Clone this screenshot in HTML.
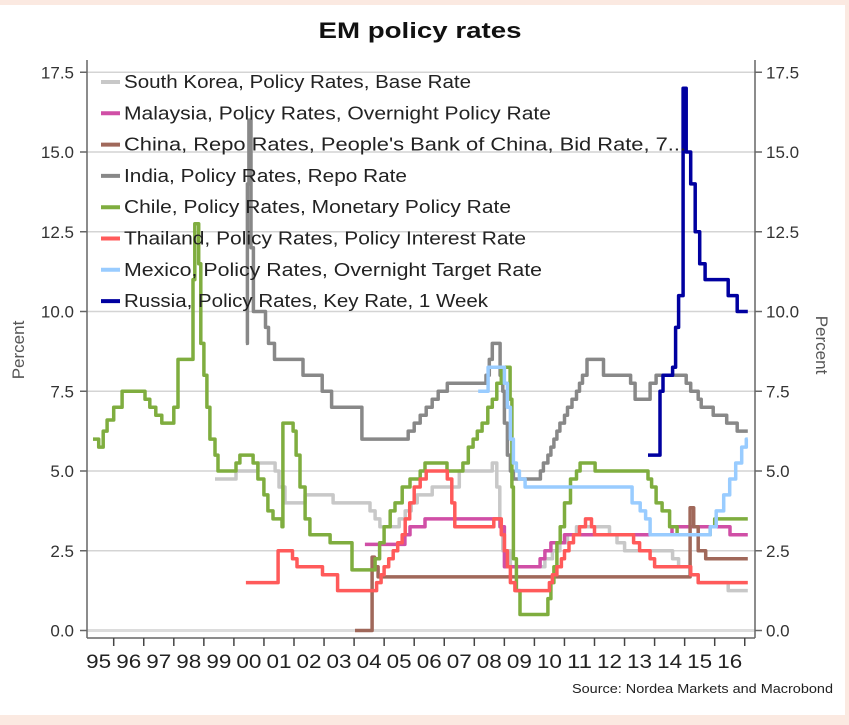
<!DOCTYPE html>
<html><head><meta charset="utf-8"><style>
html,body{margin:0;padding:0;background:#fbe9e1;width:849px;height:725px;overflow:hidden}
svg{display:block}
text{font-family:"Liberation Sans",sans-serif}
</style></head><body>
<svg id="chart" width="849" height="725" xmlns="http://www.w3.org/2000/svg">
<rect x="0" y="5" width="845" height="710" fill="#ffffff"/>
<text x="420" y="38" text-anchor="middle" font-size="22" font-weight="bold" fill="#111" textLength="203" lengthAdjust="spacingAndGlyphs">EM policy rates</text>
<g id="grid"></g><g id="axes"></g><g id="series"></g><g id="legend"></g>
<text x="833" y="693" text-anchor="end" font-size="13" fill="#222" textLength="261" lengthAdjust="spacingAndGlyphs">Source: Nordea Markets and Macrobond</text>
<text transform="translate(24,350) rotate(-90)" text-anchor="middle" font-size="17" fill="#555">Percent</text>
<text transform="translate(816,345) rotate(90)" text-anchor="middle" font-size="17" fill="#555">Percent</text>
</svg>
<script>
const yTicks=[0,2.5,5,7.5,10,12.5,15,17.5];
const yearLabels=["95","96","97","98","99","00","01","02","03","04","05","06","07","08","09","10","11","12","13","14","15","16"];
const firstYear=1995;
const END=2017.1;
const seriesNames=["South Korea, Policy Rates, Base Rate","Malaysia, Policy Rates, Overnight Policy Rate","China, Repo Rates, People's Bank of China, Bid Rate, 7...","India, Policy Rates, Repo Rate","Chile, Policy Rates, Monetary Policy Rate","Thailand, Policy Rates, Policy Interest Rate","Mexico, Policy Rates, Overnight Target Rate","Russia, Policy Rates, Key Rate, 1 Week"];
const seriesColors=["#c8c8c8","#d04fa6","#a0685a","#888888","#7fad3f","#ff5a5a","#99ccff","#0000a0"];
const koreaYears=[1999.37,2000.07,2000.8,2001.37,2001.5,2001.7,2002.37,2003.3,2004.53,2004.7,2004.86,2005.5,2005.7,2005.9,2006.1,2006.6,2007.5,2008.6,2008.75,2008.85,2008.95,2009.2,2010.35,2010.6,2010.85,2011.1,2011.4,2012.5,2012.75,2013.0,2014.6,2014.8,2015.2,2015.45,2016.45];
const koreaValues=[4.75,5.0,5.25,5.0,4.5,4.0,4.25,4.0,3.75,3.5,3.25,3.5,3.75,4.0,4.25,4.5,5.0,5.25,4.5,3.25,2.5,2.0,2.25,2.5,2.75,3.0,3.25,3.0,2.75,2.5,2.25,2.0,1.75,1.5,1.25];
const malaysiaYears=[2004.36,2005.69,2005.86,2006.1,2006.36,2008.86,2009.0,2010.19,2010.35,2010.55,2011.0,2014.58,2016.51];
const malaysiaValues=[2.7,3.0,3.25,3.25,3.5,3.25,2.0,2.25,2.5,2.75,3.0,3.25,3.0];
const chinaYears=[2004.03,2004.6,2004.68,2004.8,2015.11,2015.18,2015.3,2015.45,2015.7];
const chinaValues=[0.0,2.3,2.0,1.68,1.68,3.85,3.25,2.5,2.25];
const indiaYears=[2000.4,2000.45,2000.5,2000.57,2000.65,2001.05,2001.15,2001.35,2002.3,2002.94,2003.25,2004.26,2005.8,2006.0,2006.2,2006.4,2006.6,2006.8,2007.1,2008.39,2008.5,2008.6,2008.86,2008.95,2009.0,2009.1,2009.2,2009.3,2010.2,2010.3,2010.45,2010.55,2010.65,2010.75,2010.85,2011.0,2011.1,2011.25,2011.4,2011.5,2011.6,2011.75,2012.3,2013.2,2013.35,2013.85,2014.05,2015.05,2015.2,2015.45,2015.55,2015.95,2016.4,2016.75];
const indiaValues=[9.0,14.0,16.0,12.0,10.0,9.5,9.0,8.5,8.0,7.5,7.0,6.0,6.25,6.5,6.75,7.0,7.25,7.5,7.75,8.0,8.5,9.0,8.0,7.5,6.5,5.5,5.0,4.75,5.0,5.25,5.5,5.75,6.0,6.25,6.5,6.75,7.0,7.25,7.5,7.75,8.0,8.5,8.0,7.75,7.25,7.75,8.0,7.75,7.5,7.25,7.0,6.75,6.5,6.25];
const chileYears=[1995.31,1995.5,1995.65,1995.78,1996.0,1996.28,1997.04,1997.2,1997.4,1997.6,1998.0,1998.14,1998.64,1998.7,1998.83,1998.9,1999.0,1999.1,1999.2,1999.37,1999.47,2000.07,2000.2,2000.64,2000.8,2001.0,2001.13,2001.3,2001.6,2001.63,2001.97,2002.07,2002.2,2002.37,2002.53,2003.2,2003.93,2004.7,2004.85,2005.0,2005.2,2005.36,2005.6,2005.86,2006.2,2006.36,2007.09,2007.62,2007.8,2007.96,2008.1,2008.26,2008.45,2008.6,2008.75,2008.9,2009.19,2009.25,2009.3,2009.4,2009.52,2010.45,2010.55,2010.65,2010.75,2010.86,2011.0,2011.2,2011.4,2011.52,2012.02,2013.78,2013.9,2014.05,2014.25,2014.5,2014.75,2015.85,2016.0];
const chileValues=[6.0,5.75,6.25,6.6,7.0,7.5,7.25,7.0,6.75,6.5,7.0,8.5,11.0,12.75,11.5,9.0,8.0,7.0,6.0,5.5,5.0,5.25,5.5,5.25,4.75,4.25,3.75,3.5,3.25,6.5,6.25,5.5,4.5,3.5,3.0,2.75,1.9,2.25,2.75,3.25,3.75,4.0,4.5,4.75,5.0,5.25,5.0,5.25,5.75,6.0,6.25,6.5,7.0,7.25,7.75,8.25,7.25,4.5,2.25,1.25,0.5,1.0,1.5,2.0,2.75,3.25,4.0,4.75,5.0,5.25,5.0,4.75,4.5,4.0,3.75,3.25,3.0,3.25,3.5];
const thaiYears=[2000.4,2001.47,2001.95,2002.1,2002.95,2003.45,2004.75,2004.9,2005.0,2005.15,2005.3,2005.45,2005.6,2005.7,2005.85,2006.0,2006.2,2006.4,2007.1,2007.25,2007.35,2008.65,2008.9,2009.0,2009.1,2009.2,2009.35,2010.5,2010.6,2010.75,2010.9,2011.0,2011.15,2011.3,2011.5,2011.7,2011.9,2012.0,2013.3,2013.5,2013.85,2014.0,2015.2,2015.45];
const thaiValues=[1.5,2.5,2.25,2.0,1.75,1.25,1.5,1.75,2.0,2.25,2.5,2.75,3.0,3.5,4.0,4.5,4.75,5.0,4.75,4.0,3.25,3.5,3.0,2.5,2.0,1.5,1.25,1.5,1.75,2.0,2.25,2.5,2.75,3.0,3.25,3.5,3.25,3.0,2.75,2.5,2.25,2.0,1.75,1.5];
const mexicoYears=[2008.13,2008.46,2009.0,2009.1,2009.2,2009.3,2009.4,2009.5,2009.69,2013.25,2013.52,2013.7,2013.85,2015.85,2016.05,2016.3,2016.5,2016.7,2016.9,2017.05];
const mexicoValues=[7.5,8.25,7.75,7.0,6.0,5.25,5.0,4.75,4.5,4.0,3.75,3.5,3.0,3.25,3.75,4.25,4.75,5.25,5.75,6.0];
const russiaYears=[2013.78,2014.18,2014.28,2014.6,2014.7,2014.8,2014.95,2015.05,2015.2,2015.35,2015.5,2015.68,2016.45,2016.75];
const russiaValues=[5.5,7.5,8.0,8.25,9.5,10.5,17.0,15.0,14.0,12.5,11.5,11.0,10.5,10.0];
const seriesYears=[koreaYears,malaysiaYears,chinaYears,indiaYears,chileYears,thaiYears,mexicoYears,russiaYears];
const seriesValues=[koreaValues,malaysiaValues,chinaValues,indiaValues,chileValues,thaiValues,mexicoValues,russiaValues];

const NS="http://www.w3.org/2000/svg";
const X0=113.7,XS=30.05,Y0=630.5,YS=31.9;
function xs(t){return X0+(t-1996)*XS;}
function ys(v){return Y0-v*YS;}
function mk(tag,attrs,parent){const e=document.createElementNS(NS,tag);for(const k in attrs)e.setAttribute(k,attrs[k]);parent.appendChild(e);return e;}
const grid=document.getElementById('grid'),axes=document.getElementById('axes'),ser=document.getElementById('series'),leg=document.getElementById('legend');
yTicks.forEach(v=>{
  const l=mk('line',{x1:87,x2:755,y1:ys(v),y2:ys(v),stroke:v===0?'#dcdcdc':'#d4d4d4','stroke-width':v===0?3:1.5},grid);
  
  
  const t1=mk('line',{x1:80,x2:87,y1:ys(v),y2:ys(v),stroke:'#666','stroke-width':1.5},axes);
  
  
  const t2=mk('line',{x1:755,x2:762,y1:ys(v),y2:ys(v),stroke:'#666','stroke-width':1.5},axes);
  
  
  const a=mk('text',{x:74,y:ys(v)+6,'text-anchor':'end','font-size':17,fill:'#333'},axes);a.textContent=v.toFixed(1);
  
  
  const b=mk('text',{x:766,y:ys(v)+6,'font-size':17,fill:'#333'},axes);b.textContent=v.toFixed(1);
  
  
});
let ax=mk('line',{x1:87,x2:87,y1:60,y2:638,stroke:'#666','stroke-width':1.5},axes);


ax=mk('line',{x1:755,x2:755,y1:60,y2:638,stroke:'#666','stroke-width':1.5},axes);


ax=mk('line',{x1:87,x2:755,y1:638,y2:638,stroke:'#666','stroke-width':1.5},axes);


yearLabels.forEach((lab,i)=>{
  const y=firstYear+i;
  const tk=mk('line',{x1:xs(y+1),x2:xs(y+1),y1:638,y2:646,stroke:'#444','stroke-width':1.5},axes);
  
  
  const t=mk('text',{x:xs(y+0.5),y:668,'text-anchor':'middle','font-size':19,fill:'#222',textLength:25,lengthAdjust:'spacingAndGlyphs'},axes);t.textContent=lab;
  
  
});
seriesYears.forEach((yrs,si)=>{
  const vals=seriesValues[si];
  let d='M'+xs(yrs[0]).toFixed(1)+','+ys(vals[0]).toFixed(1);
  for(let i=1;i<yrs.length;i++){d+=' H'+xs(yrs[i]).toFixed(1)+' V'+ys(vals[i]).toFixed(1);}
  d+=' H'+xs(END).toFixed(1);
  const p=mk('path',{d:d,fill:'none',stroke:seriesColors[si],'stroke-width':3.5,'stroke-linejoin':'round'},ser);
  
  
});
const legendWidths=[347,427,562,283,387,402,418,364];
seriesNames.forEach((n,i)=>{
  const y=82+i*31.3;
  const s=mk('line',{x1:101,x2:120,y1:y,y2:y,stroke:seriesColors[i],'stroke-width':4},leg);
  
  
  const t=mk('text',{x:124,y:y+6,'font-size':18,fill:'#222',textLength:legendWidths[i],lengthAdjust:'spacingAndGlyphs'},leg);t.textContent=n;
  
  
});
</script>
</body></html>
